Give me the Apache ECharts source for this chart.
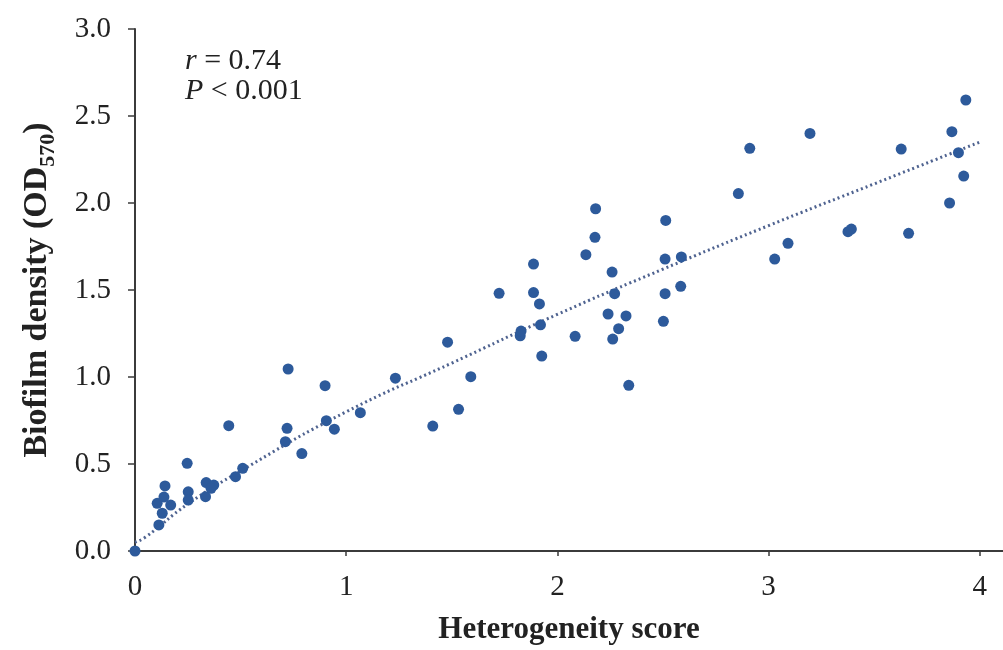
<!DOCTYPE html>
<html>
<head>
<meta charset="utf-8">
<script src="https://cdn.jsdelivr.net/npm/echarts@6/dist/echarts.min.js"></script>
<style>
  html, body { margin: 0; padding: 0; background: #fff; }
  #main { width: 1003px; height: 650px; }
</style>
</head>
<body>
<div id="main"></div>
<script>
// heterogeneity score vs biofilm density
var scoreX = [
  0, 0.113, 0.129, 0.105, 0.137, 0.169, 0.142, 0.247, 0.252, 0.252,
  0.337, 0.373, 0.334, 0.36, 0.444, 0.476, 0.51, 0.712, 0.72, 0.725,
  0.79, 0.90, 0.906, 0.944, 1.067, 1.233, 1.41, 1.48, 1.532, 1.59,
  1.724, 1.824, 1.828, 1.887, 1.887, 1.915, 1.92, 1.926, 2.084, 2.135,
  2.178, 2.181, 2.24, 2.259, 2.271, 2.262, 2.29, 2.325, 2.338, 2.502,
  2.51, 2.51, 2.513, 2.587, 2.584, 2.857, 2.911, 3.029, 3.092, 3.196,
  3.376, 3.392, 3.628, 3.663, 3.857, 3.868, 3.899, 3.924, 3.934
];
var densityY = [
  0, 0.15, 0.217, 0.274, 0.31, 0.264, 0.374, 0.504, 0.34, 0.293,
  0.393, 0.379, 0.312, 0.36, 0.72, 0.427, 0.475, 0.628, 0.705, 1.046,
  0.56, 0.95, 0.749, 0.70, 0.795, 0.993, 0.718, 1.20, 0.814, 1.002,
  1.481, 1.237, 1.264, 1.649, 1.485, 1.42, 1.30, 1.12, 1.234, 1.703,
  1.803, 1.967, 1.362, 1.603, 1.479, 1.218, 1.278, 1.351, 0.952, 1.32,
  1.479, 1.678, 1.90, 1.69, 1.521, 2.054, 2.314, 1.678, 1.768, 2.40,
  1.835, 1.85, 2.31, 1.826, 2.00, 2.41, 2.289, 2.155, 2.592
];

// dotted trend curve as it appears on the figure
var trendX = [0, 0.05, 0.25, 0.5, 1, 1.5, 2, 2.5, 3, 3.5, 4];
var trendY = [0.05, 0.08, 0.27, 0.46, 0.80, 1.08, 1.36, 1.62, 1.87, 2.11, 2.35];

var xTicks = [0, 1, 2, 3, 4];
var annotation = ['{i|r} = 0.74', '{i|P} < 0.001'];

var points = scoreX.map(function (x, i) { return [x, densityY[i]]; });
var trend = trendX.map(function (x, i) { return [x, trendY[i]]; });

var chart = echarts.init(document.getElementById('main'), null, { renderer: 'canvas' });

var serif = '"Liberation Serif", "Times New Roman", serif';
var axisColor = '#3b3b3b';

var option = {
  backgroundColor: '#fff',
  animation: false,
  title: {
    text: annotation.join('\n'),
    left: 185,
    top: 46,
    padding: 0,
    textStyle: {
      fontFamily: serif,
      fontSize: 30,
      fontWeight: 'normal',
      color: '#222',
      lineHeight: 30,
      rich: {
        i: { fontFamily: serif, fontSize: 30, fontStyle: 'italic', color: '#222', lineHeight: 30 }
      }
    }
  },
  grid: {
    left: 135,
    right: 0,
    top: 29,
    bottom: 97
  },
  xAxis: {
    type: 'value',
    min: 0,
    max: 4.11,
    interval: 1,
    name: 'Heterogeneity score',
    nameLocation: 'middle',
    nameGap: 63,
    nameTextStyle: {
      fontFamily: serif,
      fontWeight: 'bold',
      fontSize: 31,
      color: '#222'
    },
    axisLine: { lineStyle: { color: axisColor, width: 2 } },
    axisTick: { show: true, length: 5, customValues: xTicks, lineStyle: { color: axisColor, width: 1.5 } },
    axisLabel: {
      customValues: xTicks,
      margin: 22,
      fontFamily: serif,
      fontSize: 29,
      color: '#222',
      formatter: function (v) { return Math.abs(v - Math.round(v)) < 1e-6 ? String(Math.round(v)) : ''; }
    },
    splitLine: { show: false }
  },
  yAxis: {
    type: 'value',
    min: 0,
    max: 3,
    interval: 0.5,
    name: 'Biofilm density (OD{sub|570})',
    nameLocation: 'middle',
    nameGap: 76,
    nameTextStyle: {
      fontFamily: serif,
      fontWeight: 'bold',
      fontSize: 34,
      color: '#222',
      rich: {
        sub: {
          fontFamily: serif,
          fontWeight: 'bold',
          fontSize: 22,
          color: '#222',
          verticalAlign: 'bottom',
          lineHeight: 44
        }
      }
    },
    axisLine: { show: true, lineStyle: { color: axisColor, width: 2 } },
    axisTick: { show: true, length: 7, lineStyle: { color: axisColor, width: 1.5 } },
    axisLabel: {
      margin: 24,
      fontFamily: serif,
      fontSize: 29,
      color: '#222',
      formatter: function (v) { return v.toFixed(1); }
    },
    splitLine: { show: false }
  },
  series: [
    {
      name: 'trend',
      type: 'line',
      data: trend,
      smooth: true,
      symbol: 'none',
      lineStyle: { color: '#4f6390', width: 3, type: [2, 3] },
      z: 1
    },
    {
      name: 'isolates',
      type: 'scatter',
      data: points,
      symbol: 'circle',
      symbolSize: 11,
      clip: false,
      itemStyle: { color: '#2d5a9b', opacity: 1 },
      z: 3
    }
  ]
};

chart.setOption(option);
</script>
</body>
</html>
